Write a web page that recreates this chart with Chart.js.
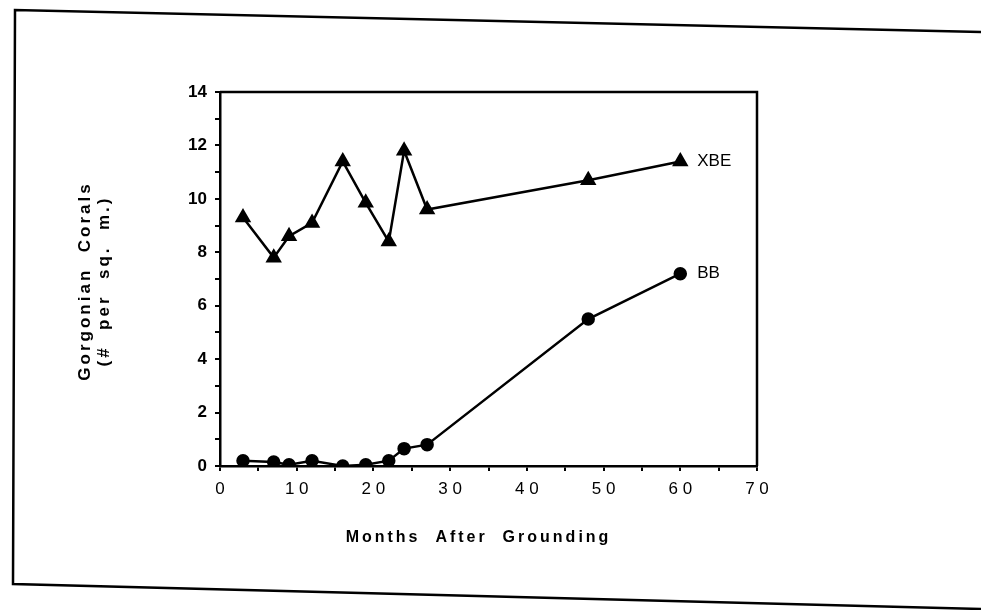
<!DOCTYPE html>
<html>
<head>
<meta charset="utf-8">
<script src="https://cdn.jsdelivr.net/npm/chart.js@4/dist/chart.umd.min.js"></script>
<style>
  body { margin: 0; background: #fff; }
  #wrap { width: 981px; height: 610px; }
</style>
</head>
<body>
<div id="wrap"><canvas id="coralChart" width="981" height="610"></canvas></div>
<script>
// months after grounding
const xbeMonths = [3, 7, 9, 12, 16, 19, 22, 24, 27, 48, 60];
const xbeValues = [9.3, 7.8, 8.6, 9.1, 11.4, 9.85, 8.4, 11.8, 9.6, 10.7, 11.4];
const bbMonths = [3, 7, 9, 12, 16, 19, 22, 24, 27, 48, 60];
const bbValues = [0.2, 0.15, 0.05, 0.2, 0.0, 0.05, 0.2, 0.65, 0.8, 5.5, 7.2];
const seriesNames = ["XBE", "BB"];
const yTitle = ["Gorgonian  Corals", "(#  per  sq.  m.)"];
const xTitle = "Months  After  Grounding";

function toPoints(xs, ys) {
    let pts = [];
    for (let i = 0; i < xs.length; i++) {
        pts.push({ x: xs[i], y: ys[i] });
    }
    return pts;
}

// outer frame of the scanned page, closed plot box, end labels, spaced axis titles
const decor = {
    id: 'decor',
    beforeDraw(chart) {
        const ctx = chart.ctx;
        ctx.save();
        ctx.letterSpacing = '0px';
        ctx.fillStyle = '#fff';
        ctx.fillRect(0, 0, chart.width, chart.height);
        ctx.strokeStyle = '#000';
        ctx.lineWidth = 2.5;
        ctx.beginPath();
        ctx.moveTo(981, 32);
        ctx.lineTo(15, 10);
        ctx.lineTo(13, 584);
        ctx.lineTo(981, 609);
        ctx.stroke();
        ctx.restore();
    },
    afterDraw(chart) {
        const ctx = chart.ctx;
        const a = chart.chartArea;
        ctx.save();
        ctx.strokeStyle = '#000';
        ctx.lineWidth = 2.5;
        ctx.beginPath();
        ctx.moveTo(a.left, a.top);
        ctx.lineTo(a.right, a.top);
        ctx.lineTo(a.right, a.bottom);
        ctx.stroke();
        ctx.fillStyle = '#000';
        ctx.font = '17px "Liberation Sans", Arial, sans-serif';
        ctx.textBaseline = 'middle';
        chart.data.datasets.forEach(function (ds, i) {
            const meta = chart.getDatasetMeta(i);
            const last = meta.data[meta.data.length - 1];
            ctx.fillText(seriesNames[i], last.x + 17, last.y);
        });

        // axis titles, letter-spaced like the original labels
        ctx.font = 'bold 16px "Liberation Sans", Arial, sans-serif';
        ctx.letterSpacing = '3px';
        ctx.textAlign = 'center';
        ctx.fillText(xTitle, (a.left + a.right) / 2 - 10, 538);
        ctx.translate(0, (a.top + a.bottom) / 2 + 2);
        ctx.rotate(-Math.PI / 2);
        ctx.font = 'bold 17px "Liberation Sans", Arial, sans-serif';
        ctx.fillText(yTitle[0], 0, 85);
        ctx.fillText(yTitle[1], 0, 104);
        ctx.letterSpacing = '0px';
        ctx.restore();
    }
};

new Chart(document.getElementById("coralChart"), {
    type: 'line',
    data: {
        datasets: [
            {
                label: seriesNames[0],
                data: toPoints(xbeMonths, xbeValues),
                borderColor: '#000',
                backgroundColor: '#000',
                borderWidth: 2.5,
                pointStyle: 'triangle',
                pointRadius: 7,
                tension: 0
            },
            {
                label: seriesNames[1],
                data: toPoints(bbMonths, bbValues),
                borderColor: '#000',
                backgroundColor: '#000',
                borderWidth: 2.5,
                pointStyle: 'circle',
                pointRadius: 5.5,
                tension: 0
            }
        ]
    },
    options: {
        responsive: false,
        animation: false,
        layout: { padding: { left: 72, top: 92, right: 224, bottom: 60 } },
        plugins: {
            legend: { display: false },
            title: { display: false },
            tooltip: { enabled: false }
        },
        scales: {
            x: {
                type: 'linear',
                min: 0,
                max: 70,
                afterFit: function (s) { s.height = 84; },
                grid: { drawOnChartArea: false, tickLength: 5, tickColor: '#000', lineWidth: 2 },
                border: { color: '#000', width: 2.5 },
                ticks: {
                    stepSize: 5,
                    color: '#000',
                    padding: 8,
                    maxRotation: 0,
                    font: { family: '"Liberation Sans", Arial, sans-serif', size: 17 },
                    callback: function (v) { return v % 10 === 0 ? String(v).split('').join(' ') : ''; }
                },
                title: { display: false }
            },
            y: {
                min: 0,
                max: 14,
                afterFit: function (s) { s.width = 148; },
                grid: { drawOnChartArea: false, tickLength: 5, tickColor: '#000', lineWidth: 2 },
                border: { color: '#000', width: 2.5 },
                ticks: {
                    stepSize: 1,
                    color: '#000',
                    padding: 8,
                    font: { family: '"Liberation Sans", Arial, sans-serif', size: 17, weight: 'bold' },
                    callback: function (v) { return v % 2 === 0 ? v : ''; }
                },
                title: { display: false }
            }
        }
    },
    plugins: [decor]
});
</script>
</body>
</html>
